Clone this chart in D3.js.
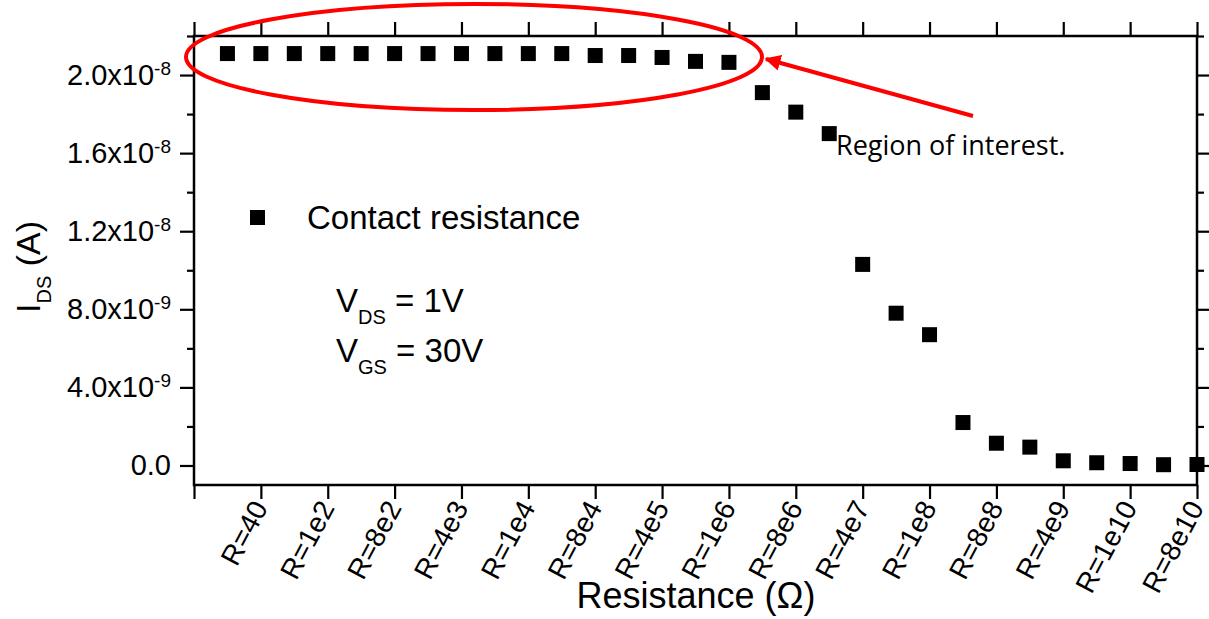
<!DOCTYPE html>
<html>
<head>
<meta charset="utf-8">
<script src="https://cdn.jsdelivr.net/npm/d3@7"></script>
<style>
  html, body { margin: 0; padding: 0; background: #fff; }
  svg { display: block; }
  text { font-family: "Liberation Sans", Arial, sans-serif; fill: #000; }
</style>
</head>
<body>
<svg id="chart" width="1209" height="619"></svg>
<script>
// ---- data ----
const xPositions = [0.5, 1, 1.5, 2, 2.5, 3, 3.5, 4, 4.5, 5, 5.5, 6, 6.5, 7, 7.5,
                    8, 8.5, 9, 9.5, 10, 10.5, 11, 11.5, 12, 12.5, 13, 13.5, 14, 14.5, 15];
const currentIDS = [2.11e-8, 2.11e-8, 2.11e-8, 2.11e-8, 2.11e-8, 2.11e-8, 2.11e-8, 2.11e-8,
                    2.11e-8, 2.11e-8, 2.11e-8, 2.10e-8, 2.10e-8, 2.09e-8, 2.07e-8, 2.065e-8,
                    1.91e-8, 1.81e-8, 1.70e-8, 1.03e-8, 7.8e-9, 6.7e-9, 2.2e-9, 1.14e-9,
                    9.4e-10, 2.4e-10, 1.4e-10, 1.0e-10, 4e-11, 5e-11];
const xTickPositions = [0, 1, 2, 3, 4, 5, 6, 7, 8, 9, 10, 11, 12, 13, 14, 15];
const xTickLabels = ["", "R=40", "R=1e2", "R=8e2", "R=4e3", "R=1e4", "R=8e4", "R=4e5",
                     "R=1e6", "R=8e6", "R=4e7", "R=1e8", "R=8e8", "R=4e9", "R=1e10", "R=8e10"];
const yTickValues = [0, 4e-9, 8e-9, 1.2e-8, 1.6e-8, 2.0e-8];
const yTickMantissa = ["0.0", "4.0x10", "8.0x10", "1.2x10", "1.6x10", "2.0x10"];
const yTickExponent = ["", "-9", "-9", "-8", "-8", "-8"];
const yMinorTicks = [2e-9, 6e-9, 1.0e-8, 1.4e-8, 1.8e-8, 2.2e-8];
const legendLabel = "Contact resistance";
const annotationText = "Region of interest.";

// ---- layout ----
const svg = d3.select("#chart");
const L = 194, R = 1197, T = 36, B = 485;
const x = d3.scaleLinear().domain([0, 15]).range([L, R]);
const y = d3.scaleLinear().domain([-1.0e-9, 2.2e-8]).range([B, T]);

const axisStroke = 2.5;
function styleAxis(g) {
  g.select(".domain").remove();
  g.selectAll(".tick line").attr("stroke", "#000").attr("stroke-width", 2.2);
}

// Left axis major
const gLeft = svg.append("g").attr("transform", `translate(${L},0)`)
  .call(d3.axisLeft(y).tickValues(yTickValues).tickSize(14).tickFormat(""));
styleAxis(gLeft);
// Left minor
const gLeftMinor = svg.append("g").attr("transform", `translate(${L},0)`)
  .call(d3.axisLeft(y).tickValues(yMinorTicks).tickSize(7).tickFormat(""));
styleAxis(gLeftMinor);
// Right axis major/minor (outward)
const gRight = svg.append("g").attr("transform", `translate(${R},0)`)
  .call(d3.axisRight(y).tickValues(yTickValues).tickSize(14).tickFormat(""));
styleAxis(gRight);
const gRightMinor = svg.append("g").attr("transform", `translate(${R},0)`)
  .call(d3.axisRight(y).tickValues(yMinorTicks).tickSize(7).tickFormat(""));
styleAxis(gRightMinor);

// Y tick labels
const yLab = svg.append("g");
yTickValues.forEach((v, i) => {
  const t = yLab.append("text")
    .attr("x", 171).attr("y", y(v) + 10)
    .attr("text-anchor", "end")
    .style("font-size", "29px");
  t.append("tspan").text(yTickMantissa[i]);
  if (yTickExponent[i]) {
    t.append("tspan").attr("dy", -10).style("font-size", "19px").text(yTickExponent[i]);
  }
});

// Bottom axis
const gBottom = svg.append("g").attr("transform", `translate(0,${B})`)
  .call(d3.axisBottom(x).tickValues(xTickPositions).tickSize(14).tickFormat(""));
styleAxis(gBottom);
// Top axis
const gTop = svg.append("g").attr("transform", `translate(0,${T})`)
  .call(d3.axisTop(x).tickValues(xTickPositions).tickSize(14).tickFormat(""));
styleAxis(gTop);

// X tick labels (rotated)
const xLab = svg.append("g");
xTickPositions.forEach((p, i) => {
  if (!xTickLabels[i]) return;
  xLab.append("text")
    .attr("transform", `translate(${x(p) - 1},${B + 18}) rotate(-62)`)
    .attr("text-anchor", "end")
    .attr("dy", "0.35em")
    .style("font-size", "28px")
    .text(xTickLabels[i]);
});

// Frame lines
svg.append("rect").attr("x", L).attr("y", T).attr("width", R - L).attr("height", B - T)
  .attr("fill", "none").attr("stroke", "#000").attr("stroke-width", axisStroke);

// Axis titles
const yTitle = svg.append("text")
  .attr("transform", `translate(40,313) rotate(-90)`)
  .attr("text-anchor", "start")
  .style("font-size", "34px");
yTitle.append("tspan").text("I");
yTitle.append("tspan").attr("dy", 11).style("font-size", "20px").text("DS");
yTitle.append("tspan").attr("dy", -11).text(" (A)");

svg.append("text")
  .attr("x", 696).attr("y", 608)
  .attr("text-anchor", "middle")
  .style("font-size", "36px")
  .text("Resistance (\u03A9)");

// Data points
svg.append("g").selectAll("rect.pt")
  .data(xPositions.map((p, i) => ({ p, v: currentIDS[i] })))
  .join("rect")
  .attr("class", "pt")
  .attr("x", d => x(d.p) - 7.5)
  .attr("y", d => y(d.v) - 7.5)
  .attr("width", 15).attr("height", 15)
  .attr("fill", "#000");

// Legend
svg.append("rect").attr("x", 250).attr("y", 210).attr("width", 15).attr("height", 15).attr("fill", "#000");
svg.append("text").attr("x", 307).attr("y", 229)
  .style("font-size", "33px").text(legendLabel);

// Bias conditions
const v1 = svg.append("text").attr("x", 336).attr("y", 312).style("font-size", "33px");
v1.append("tspan").text("V");
v1.append("tspan").attr("dy", 11.5).style("font-size", "20px").text("DS");
v1.append("tspan").attr("dy", -11.5).text(" = 1V");
const v2 = svg.append("text").attr("x", 336).attr("y", 362).style("font-size", "33px");
v2.append("tspan").text("V");
v2.append("tspan").attr("dy", 11.5).style("font-size", "20px").text("GS");
v2.append("tspan").attr("dy", -11.5).text(" = 30V");

// Annotation: ellipse, arrow, text
svg.append("ellipse").attr("cx", 474).attr("cy", 57).attr("rx", 288).attr("ry", 53)
  .attr("fill", "none").attr("stroke", "#ff0000").attr("stroke-width", 4);
const defs = svg.append("defs");
defs.append("marker").attr("id", "arrowhead")
  .attr("viewBox", "0 0 10 10").attr("refX", 9).attr("refY", 5)
  .attr("markerWidth", 4).attr("markerHeight", 4).attr("orient", "auto")
  .attr("markerUnits", "strokeWidth")
  .append("path").attr("d", "M0,0 L10,5 L0,10 Z").attr("fill", "#ff0000");
svg.append("line").attr("x1", 973).attr("y1", 116).attr("x2", 766).attr("y2", 59)
  .attr("stroke", "#ff0000").attr("stroke-width", 4)
  .attr("marker-end", "url(#arrowhead)");
svg.append("text").attr("x", 836).attr("y", 155)
  .style("font-family", "'Open Sans', 'Noto Sans', sans-serif")
  .style("font-size", "27px")
  .text(annotationText);
</script>
</body>
</html>
